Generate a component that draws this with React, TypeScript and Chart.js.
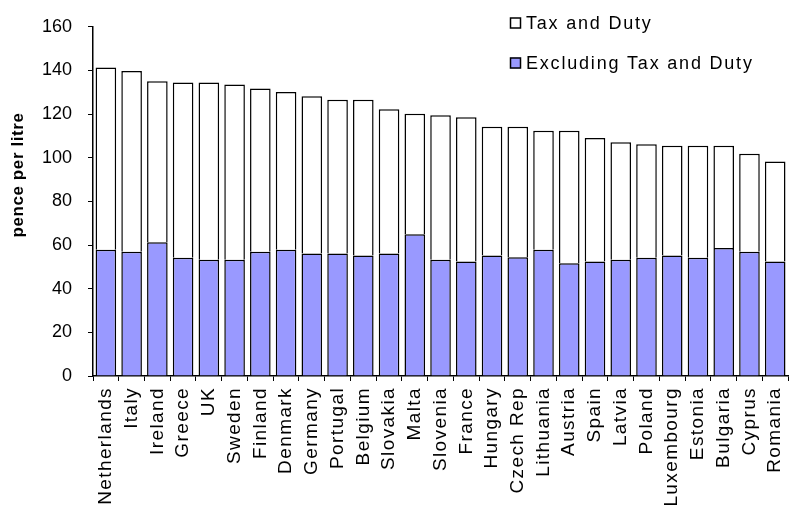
import React, { useEffect, useRef } from "react";
import { Chart, registerables } from "chart.js";

Chart.register(...registerables);

const countries = [
  "Netherlands", "Italy", "Ireland", "Greece", "UK", "Sweden", "Finland", "Denmark",
  "Germany", "Portugal", "Belgium", "Slovakia", "Malta", "Slovenia", "France", "Hungary",
  "Czech Rep", "Lithuania", "Austria", "Spain", "Latvia", "Poland", "Luxembourg",
  "Estonia", "Bulgaria", "Cyprus", "Romania",
];

const excludingTax = [
  57.9, 56.9, 61.3, 54.2, 53.3, 53.3, 56.9, 57.9, 56.1, 56.1, 55.2, 56.1, 65.0, 53.3,
  52.5, 55.2, 54.4, 57.8, 51.7, 52.5, 53.3, 54.2, 55.2, 54.2, 58.7, 56.9, 52.5,
];

const taxAndDuty = [
  83.4, 82.8, 73.8, 80.3, 81.2, 80.3, 74.8, 72.2, 72.1, 70.5, 71.4, 66.1, 55.2, 66.2,
  66.1, 59.0, 59.8, 54.6, 60.7, 56.5, 53.8, 52.0, 50.3, 51.3, 46.8, 44.9, 45.8,
];

const yTicks = [0, 20, 40, 60, 80, 100, 120, 140, 160];
const yTitle = "pence per litre";
const legendLabels = ["Tax and Duty", "Excluding Tax and Duty"];

const FONT = "'Liberation Sans', Arial, sans-serif";
const BLUE = "#9999FF";

export default function App() {
  const ref = useRef<HTMLCanvasElement | null>(null);

  useEffect(() => {
    document.body.style.margin = "0";
    document.body.style.overflow = "hidden";
    const canvas = ref.current;
    if (!canvas) return;

    const overlay = {
      id: "overlay",
      beforeDraw(chart: any) {
        const xs = chart.scales.x;
        if (xs && !xs.__patched) {
          const orig = xs.drawLabels.bind(xs);
          xs.drawLabels = (area: any) => {
            const c = chart.ctx as any;
            c.save();
            c.letterSpacing = "1.4px";
            orig(area);
            c.restore();
            c.letterSpacing = "0px";
          };
          xs.__patched = true;
        }
      },
      afterDraw(chart: any) {
        const ctx = chart.ctx as any;
        ctx.save();
        // y-axis title
        ctx.fillStyle = "#000";
        ctx.font = `bold 17px ${FONT}`;
        ctx.letterSpacing = "0.6px";
        ctx.textAlign = "center";
        ctx.textBaseline = "middle";
        ctx.translate(18, 175);
        ctx.rotate(-Math.PI / 2);
        ctx.fillText(yTitle, 0, 0);
        ctx.restore();

        // legend
        ctx.save();
        ctx.font = `18px ${FONT}`;
        ctx.letterSpacing = "1.8px";
        ctx.textBaseline = "middle";
        ctx.textAlign = "left";
        const items = [
          { label: legendLabels[0], fill: "#ffffff", y: 23 },
          { label: legendLabels[1], fill: BLUE, y: 63 },
        ];
        for (const it of items) {
          ctx.fillStyle = it.fill;
          ctx.fillRect(510, it.y - 5.5, 11, 11);
          ctx.strokeStyle = "#000";
          ctx.lineWidth = 1.5;
          ctx.strokeRect(510.5, it.y - 5, 10, 10);
          ctx.fillStyle = "#000";
          ctx.fillText(it.label, 526, it.y + 1);
        }
        ctx.restore();
        ctx.letterSpacing = "0px";
      },
    };

    const chart = new Chart(canvas, {
      type: "bar",
      data: {
        labels: countries,
        datasets: [
          {
            label: legendLabels[1],
            data: excludingTax,
            backgroundColor: BLUE,
            borderColor: "#000",
            borderWidth: 1.5,
            barPercentage: 0.8,
            categoryPercentage: 1,
          },
          {
            label: legendLabels[0],
            data: taxAndDuty,
            backgroundColor: "#ffffff",
            borderColor: "#000",
            borderWidth: 1.5,
            barPercentage: 0.8,
            categoryPercentage: 1,
          },
        ],
      },
      options: {
        responsive: false,
        animation: false,
        events: [],
        layout: { padding: { top: 14, left: 0, right: 0, bottom: 0 } },
        plugins: {
          legend: { display: false },
          tooltip: { enabled: false },
          title: { display: false },
        },
        scales: {
          x: {
            stacked: true,
            offset: true,
            grid: {
              offset: true,
              drawOnChartArea: false,
              drawTicks: true,
              tickLength: 5,
              color: "#000",
              lineWidth: 1,
            },
            border: { display: true, color: "#000", width: 1.5 },
            ticks: {
              minRotation: 90,
              maxRotation: 90,
              autoSkip: false,
              padding: 6,
              color: "#000",
              font: { family: FONT, size: 19 },
            },
            afterFit: (scale: any) => {
              scale.height = 132;
            },
          },
          y: {
            stacked: true,
            min: 0,
            max: 160,
            afterBuildTicks: (scale: any) => {
              scale.ticks = yTicks.map((v) => ({ value: v }));
            },
            grid: {
              drawOnChartArea: false,
              drawTicks: true,
              tickLength: 5,
              color: "#000",
              lineWidth: 1,
            },
            border: { display: true, color: "#000", width: 1.5 },
            ticks: {
              padding: 16,
              color: "#000",
              font: { family: FONT, size: 18 },
            },
            afterFit: (scale: any) => {
              scale.width = 93;
            },
          },
        },
      },
      plugins: [overlay],
    });
    chart.draw();

    return () => chart.destroy();
  }, []);

  return (
    <div style={{ width: 800, height: 508, overflow: "hidden", position: "relative" }}>
      <canvas ref={ref} width={804} height={508} style={{ display: "block", width: 804, height: 508 }} />
    </div>
  );
}
